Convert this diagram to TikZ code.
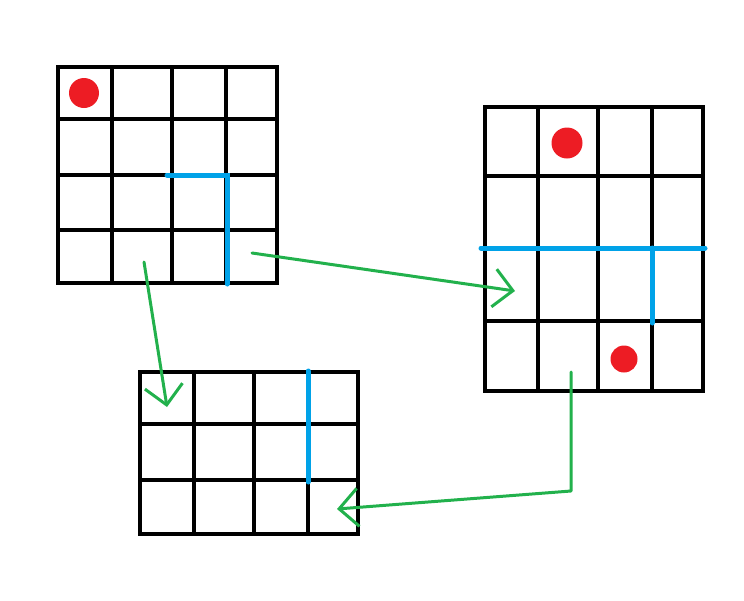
\documentclass[tikz,border=0pt]{standalone}
\usetikzlibrary{arrows.meta}

\definecolor{dotred}{RGB}{237,28,36}
\definecolor{wallblue}{RGB}{0,162,232}
\definecolor{movegreen}{RGB}{34,177,76}

\tikzset{
  gridline/.style={line width=3.3pt, line cap=rect},
  wall/.style={wallblue, line width=5pt, line cap=round},
  coin/.style={fill=dotred},
  move/.style={movegreen, line width=3pt, line cap=round, line join=round,
    -{Straight Barb[length=19pt, width=38pt, line width=3pt]}}
}

\begin{document}
\begin{tikzpicture}[x=1pt, y=-1pt]
      \useasboundingbox (0,0) rectangle (744,600);

      % First board (4x4)
      \draw[gridline] (58,67) rectangle (277,283);
      \draw[gridline] (112,67) -- (112,283);
      \draw[gridline] (172,67) -- (172,283);
      \draw[gridline] (226,67) -- (226,283);
      \draw[gridline] (58,119) -- (277,119);
      \draw[gridline] (58,175) -- (277,175);
      \draw[gridline] (58,230) -- (277,230);
      \fill[coin] (84,93) circle (15);
      \draw[wall] (167,175) -- (227,175) -- (227,284);

      % Second board (4x4)
      \draw[gridline] (485,107) rectangle (703,391);
      \draw[gridline] (538,107) -- (538,391);
      \draw[gridline] (598,107) -- (598,391);
      \draw[gridline] (652,107) -- (652,391);
      \draw[gridline] (485,176) -- (703,176);
      \draw[gridline] (485,248) -- (703,248);
      \draw[gridline] (485,321) -- (703,321);
      \fill[coin] (567,143) circle (15.5);
      \fill[coin] (624,359) circle (13.5);
      \draw[wall] (481,248) -- (705,248);
      \draw[wall] (652,248) -- (652,323);

      % Third board (4x3)
      \draw[gridline] (140,372) rectangle (358,534);
      \draw[gridline] (194,372) -- (194,534);
      \draw[gridline] (254,372) -- (254,534);
      \draw[gridline] (308,372) -- (308,534);
      \draw[gridline] (140,424) -- (358,424);
      \draw[gridline] (140,480) -- (358,480);
      \draw[wall] (308,371) -- (308,482);

      % Arrow ends
      \coordinate (a1) at (252,253);
      \coordinate (b1) at (515,291);
      \coordinate (a2) at (144,262);
      \coordinate (b2) at (167,407);
      \coordinate (a3) at (571,372);
      \coordinate (c3) at (571,491);
      \coordinate (b3) at (337,509);

      % Moves between boards
      \draw[move] (a1) -- (b1);
      \draw[move] (a2) -- (b2);
      \draw[move] (a3) -- (c3) -- (b3);
\end{tikzpicture}
\end{document}
